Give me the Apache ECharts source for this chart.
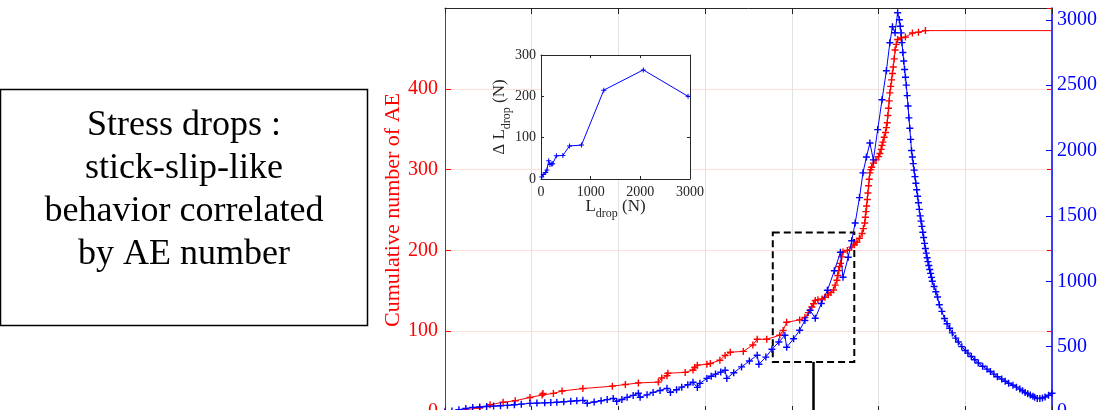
<!DOCTYPE html>
<html><head><meta charset="utf-8">
<script src="https://cdn.jsdelivr.net/npm/echarts@6/dist/echarts.min.js"></script>
<style>html,body{margin:0;padding:0;background:#fff}#c{width:1107px;height:410px}</style>
</head><body><div id="c"></div>
<script>
// Cumulative number of AE (left axis)
const aeX = [0,0.40,0.52,0.67,0.81,0.98,1.12,1.13,1.25,1.35,1.59,1.93,2.08,2.23,2.46,2.50,2.56,2.57,2.77,2.86,2.88,2.91,3.02,3.06,3.17,3.23,3.29,3.44,3.55,3.60,3.71,3.86,3.90,3.94,4.09,4.15,4.19,4.23,4.25,4.27,4.30,4.35,4.38,4.42,4.45,4.48,4.50,4.52,4.53,4.54,4.55,4.56,4.575,4.59,4.64,4.69,4.72,4.75,4.78,4.81,4.825,4.84,4.848,4.855,4.862,4.87,4.877,4.885,4.892,4.90,4.91,4.92,4.94,4.97,5.00,5.015,5.03,5.04,5.05,5.065,5.08,5.09,5.10,5.107,5.115,5.122,5.13,5.14,5.15,5.16,5.17,5.18,5.19,5.205,5.22,5.26,5.31,5.39,5.46,5.54,7.00];
const aeY = [0,5,9,12,14,18,21,23,23,26,29,32,34,36,37,42,45,48,49,52,55,58,59,60,64,70,74,75,83,90,90,95,101,111,114,117,123,130,134,138,139,140,142,145,148,151,157,163,169,175,180,184,192,198,200,204,207,210,215,221,227,234,241,248,255,263,271,280,288,296,300,303,308,312,316,320,325,330,334,340,346,352,358,367,376,385,395,403,411,419,427,437,448,455,461,463,464,469,470,472,472];
// Load (right axis)
const loadX = [0,0.08,0.16,0.24,0.32,0.40,0.48,0.56,0.64,0.72,0.80,0.88,0.98,1.06,1.15,1.22,1.29,1.37,1.45,1.52,1.59,1.64,1.72,1.80,1.87,1.94,1.98,2.04,2.10,2.17,2.23,2.25,2.33,2.40,2.48,2.56,2.60,2.67,2.73,2.80,2.86,2.91,2.94,3.02,3.07,3.12,3.18,3.23,3.25,3.33,3.42,3.51,3.60,3.62,3.70,3.77,3.85,3.92,3.94,4.02,4.09,4.15,4.21,4.27,4.34,4.41,4.49,4.56,4.59,4.65,4.69,4.73,4.78,4.82,4.86,4.90,4.94,4.99,5.04,5.09,5.13,5.16,5.19,5.22,5.24,5.25,5.26,5.27,5.28,5.29,5.30,5.31,5.32,5.33,5.34,5.35,5.36,5.37,5.38,5.39,5.40,5.41,5.42,5.43,5.44,5.45,5.46,5.47,5.48,5.49,5.50,5.51,5.52,5.53,5.54,5.55,5.56,5.57,5.58,5.59,5.60,5.61,5.62,5.64,5.66,5.68,5.70,5.73,5.76,5.79,5.82,5.85,5.89,5.92,5.96,6.00,6.03,6.07,6.11,6.15,6.20,6.25,6.29,6.33,6.37,6.42,6.46,6.50,6.55,6.59,6.63,6.66,6.69,6.72,6.75,6.78,6.80,6.83,6.86,6.89,6.92,6.96,7.00];
const loadY = [0,8,18,27,35,38,42,45,48,51,55,60,66,68,70,72,74,78,82,86,89,66,76,86,95,104,81,96,112,127,143,112,131,150,165,181,150,170,190,208,227,188,219,257,273,290,305,319,257,300,345,390,434,365,420,480,535,587,495,560,625,700,778,717,830,931,1080,1222,1031,1184,1310,1445,1640,1829,1950,2058,1928,2160,2388,2610,2824,2947,2901,3054,3000,2950,2900,2825,2750,2685,2620,2560,2500,2420,2340,2250,2170,2085,2000,1950,1900,1850,1800,1750,1700,1650,1600,1550,1500,1460,1420,1375,1335,1290,1250,1215,1180,1150,1120,1090,1060,1030,1000,960,920,880,820,770,715,675,640,605,565,535,500,470,450,425,400,375,350,328,310,290,270,252,235,220,205,190,175,162,150,140,130,120,112,104,103,107,115,128,143];
// Inset: stress drop amplitude vs load at drop
const dropL = [15,45,95,120,155,180,215,235,310,440,575,815,1265,2060,2960];
const dropDelta = [5,11,16,22,44,35,36,37,56,57,80,82,215,264,200];
// Axis ranges / ticks
const xRange = [0, 7], xStep = 1;
const aeRange = [0, 500], aeStep = 100;
const loadRange = [0, 3090], loadStep = 500;
const insetXRange = [0, 3000], insetXStep = 1000;
const insetYRange = [0, 300], insetYStep = 100;
// Zoom box and connector (in data units of the main chart)
const zoomBoxX = [3.78, 4.72], zoomBoxY = [62, 222];
const connectorX = 4.25;
const boxText = 'Stress drops :\nstick-slip-like\nbehavior correlated\nby AE number';

const SERIF = '"Liberation Serif","Times New Roman",serif';
const PLUS = 'path://M4,0H6V4H10V6H6V10H4V6H0V4H4Z';
const RED = '#ff0000', BLUE = '#0000ff', DARK = '#262626';
const plain = v => String(v);

const zip = (a, b) => a.map((v, i) => [v, b[i]]);
const aeData = zip(aeX, aeY).map((p, i, arr) => i === arr.length - 1 ? {value: p, symbol: 'none'} : p);

const chart = echarts.init(document.getElementById('c'), null, {renderer: 'canvas'});
const subRich = {
  m: {fontSize: 17, fontFamily: SERIF, color: DARK, lineHeight: 18},
  s: {fontSize: 12, fontFamily: SERIF, color: DARK, lineHeight: 12, padding: [14, 0, 0, 0]}
};
const insetAxisCommon = {
  type: 'value', gridIndex: 1, z: 6,
  axisLine: {show: true, onZero: false, lineStyle: {color: DARK, width: 1}},
  axisTick: {show: true, inside: true, length: 3, lineStyle: {color: DARK}},
  splitLine: {show: false}
};
chart.setOption({
  animation: false,
  backgroundColor: '#fff',
  grid: [
    {left: 445, right: 55, top: 8, bottom: -2, containLabel: false, outerBoundsMode: 'none'},
    {left: 541, top: 55, width: 149, height: 124, show: true, backgroundColor: '#fff', borderWidth: 0, z: 5, containLabel: false, outerBoundsMode: 'none'}
  ],
  xAxis: [
    {type: 'value', gridIndex: 0, position: 'bottom', min: xRange[0], max: xRange[1], interval: xStep,
     axisLine: {show: true, onZero: false, lineStyle: {color: DARK, width: 1}},
     axisTick: {show: true, inside: true, length: 6, lineStyle: {color: DARK}},
     axisLabel: {show: false},
     splitLine: {show: true, lineStyle: {color: '#e2e2e2', width: 1}}},
    {type: 'value', gridIndex: 0, position: 'top', min: xRange[0], max: xRange[1], interval: xStep,
     axisLine: {show: true, onZero: false, lineStyle: {color: DARK, width: 1}},
     axisTick: {show: true, inside: true, length: 6, lineStyle: {color: DARK}},
     axisLabel: {show: false}, splitLine: {show: false}},
    Object.assign({}, insetAxisCommon, {position: 'bottom', min: insetXRange[0], max: insetXRange[1], interval: insetXStep,
     axisLabel: {show: true, color: DARK, fontSize: 14, fontFamily: SERIF, margin: 6, formatter: plain},
     name: '{m|L}{s|drop}{m| (N)}', nameLocation: 'middle', nameGap: 19, nameMoveOverlap: false,
     nameTextStyle: {rich: subRich}}),
    Object.assign({}, insetAxisCommon, {position: 'top', min: insetXRange[0], max: insetXRange[1], interval: insetXStep,
     axisLabel: {show: false}})
  ],
  yAxis: [
    {type: 'value', gridIndex: 0, position: 'left', min: aeRange[0], max: aeRange[1], interval: aeStep,
     axisLine: {show: true, onZero: false, lineStyle: {color: RED, width: 1}},
     axisTick: {show: true, inside: true, length: 6, lineStyle: {color: RED}},
     axisLabel: {show: true, color: RED, fontSize: 20, fontFamily: SERIF, margin: 7, showMaxLabel: false, formatter: plain},
     splitLine: {show: true, lineStyle: {color: '#ffdede', width: 1}},
     name: 'Cumulative number of AE', nameLocation: 'middle', nameGap: 41, nameMoveOverlap: false,
     nameTextStyle: {color: RED, fontSize: 22, fontFamily: SERIF}},
    {type: 'value', gridIndex: 0, position: 'right', min: loadRange[0], max: loadRange[1], interval: loadStep,
     axisLine: {show: true, onZero: false, lineStyle: {color: BLUE, width: 1.5}},
     axisTick: {show: true, inside: true, length: 6, lineStyle: {color: BLUE}},
     axisLabel: {show: true, color: BLUE, fontSize: 20, fontFamily: SERIF, margin: 5, showMaxLabel: false, formatter: plain},
     splitLine: {show: false}},
    {type: 'value', gridIndex: 0, position: 'right', offset: 0, min: aeRange[0], max: aeRange[1], interval: aeStep,
     axisLine: {show: false, onZero: false},
     axisTick: {show: true, inside: true, length: 5, lineStyle: {color: RED}},
     axisLabel: {show: false}, splitLine: {show: false}},
    Object.assign({}, insetAxisCommon, {position: 'left', min: insetYRange[0], max: insetYRange[1], interval: insetYStep,
     axisLabel: {show: true, color: DARK, fontSize: 14, fontFamily: SERIF, margin: 5, formatter: plain},
     name: '{m|\u0394 L}{s|drop}{m| (N)}', nameLocation: 'middle', nameGap: 32, nameMoveOverlap: false,
     nameTextStyle: {rich: subRich}}),
    Object.assign({}, insetAxisCommon, {position: 'right', min: insetYRange[0], max: insetYRange[1], interval: insetYStep,
     axisLabel: {show: false}})
  ],
  series: [
    {type: 'line', xAxisIndex: 0, yAxisIndex: 0, data: aeData, z: 3,
     symbol: PLUS, symbolSize: 7, showAllSymbol: true,
     lineStyle: {color: RED, width: 1}, itemStyle: {color: RED},
     emphasis: {disabled: true},
     markArea: {silent: true,
       itemStyle: {color: 'rgba(0,0,0,0)', borderColor: '#000', borderWidth: 2, borderType: [7, 4]},
       label: {show: false},
       data: [[{coord: [zoomBoxX[0], zoomBoxY[1]]}, {coord: [zoomBoxX[1], zoomBoxY[0]]}]]},
     markLine: {silent: true, symbol: 'none', label: {show: false},
       lineStyle: {color: '#000', width: 2.5, type: 'solid'},
       data: [[{coord: [connectorX, zoomBoxY[0]]}, {coord: [connectorX, aeRange[0]]}]]}
    },
    {type: 'line', xAxisIndex: 0, yAxisIndex: 1, data: zip(loadX, loadY), z: 4,
     symbol: PLUS, symbolSize: 7, showAllSymbol: true,
     lineStyle: {color: BLUE, width: 1}, itemStyle: {color: BLUE},
     emphasis: {disabled: true}},
    {type: 'line', xAxisIndex: 2, yAxisIndex: 3, data: zip(dropL, dropDelta), z: 8,
     symbol: PLUS, symbolSize: 5, showAllSymbol: true,
     lineStyle: {color: BLUE, width: 1}, itemStyle: {color: BLUE},
     emphasis: {disabled: true}}
  ],
  graphic: [
    {type: 'rect', shape: {x: 0.5, y: 89.5, width: 367, height: 236}, z: 10,
     style: {fill: '#fff', stroke: '#000', lineWidth: 1.5}},
    {type: 'text', x: 184, y: 190, z: 11,
     style: {text: boxText, fontSize: 36, fontFamily: SERIF, fill: '#000',
             align: 'center', verticalAlign: 'middle', textAlign: 'center', textVerticalAlign: 'middle', lineHeight: 43.3}}
  ]
});
</script></body></html>
